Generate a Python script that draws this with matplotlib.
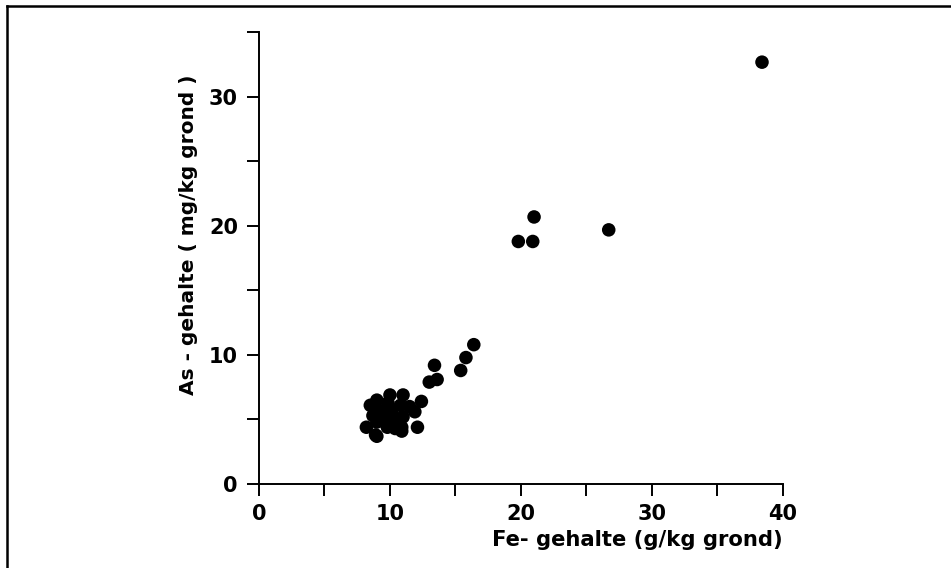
import matplotlib
matplotlib.use("Agg")
import matplotlib.pyplot as plt
from matplotlib.lines import Line2D

fe = [38.4, 19.8, 20.9, 21.0, 26.7,
      16.4, 15.8, 15.4, 13.4, 13.6, 13.0, 12.4,
      10.0, 11.0, 9.0, 8.5, 9.85, 11.5, 11.9, 9.5, 8.7, 10.4, 11.0, 9.0,
      8.2, 9.8, 10.9, 12.1, 8.9, 9.0, 10.9, 9.2, 10.15, 10.8, 9.6, 10.4]
as_ = [32.7, 18.8, 18.8, 20.7, 19.7,
       10.8, 9.8, 8.8, 9.2, 8.1, 7.9, 6.4,
       6.9, 6.9, 6.5, 6.1, 6.3, 6.0, 5.6, 5.6, 5.3, 5.1, 5.2, 4.8,
       4.4, 4.4, 4.4, 4.4, 3.8, 3.7, 4.1, 5.7, 5.6, 6.1, 5.0, 4.3]

x_major = [0, 10, 20, 30, 40]
x_minor = [5, 15, 25, 35]
y_major = [0, 10, 20, 30]
y_minor = [5, 15, 25, 35]

plt.rcParams['font.family'] = ['DejaVu Sans']

fig = plt.figure(figsize=(9.51, 5.68), dpi=100)
ax = fig.add_axes([0.2723, 0.1479, 0.8233 - 0.2723, 0.9428 - 0.1479])

ax.scatter(fe, as_, s=95, color='black', edgecolors='none', zorder=3, clip_on=False)

ax.set_xlim(0, 40)
ax.set_ylim(0, 35)
for s in ['top', 'right']:
    ax.spines[s].set_visible(False)
for s in ['left', 'bottom']:
    ax.spines[s].set_linewidth(1.4)
ax.set_xticks(x_major)
ax.set_xticks(x_minor, minor=True)
ax.set_yticks(y_major)
ax.set_yticks(y_minor, minor=True)
ax.tick_params(axis='both', which='both', direction='out', length=8.6, width=1.4,
               labelsize=15)
ax.tick_params(axis='x', which='both', pad=5.5)
ax.tick_params(axis='y', which='both', pad=6.5)
for lab in ax.get_xticklabels() + ax.get_yticklabels():
    lab.set_fontweight('bold')
ax.patch.set_alpha(0)

fig.text(0.8233, 1 - 530 / 568, 'Fe- gehalte (g/kg grond)', ha='right', va='top',
         fontsize=15.2, fontweight='bold')
fig.text(189 / 951, 1 - 235 / 568, 'As - gehalte ( mg/kg grond )', ha='center', va='center',
         rotation=90, fontsize=14.5, fontweight='bold')

# partial frame (left and top edges)
fig.add_artist(Line2D([0.0074, 0.0074], [0.0, 0.9894], transform=fig.transFigure,
                      color='black', lw=1.8))
fig.add_artist(Line2D([0.0074, 1.0], [0.9894, 0.9894], transform=fig.transFigure,
                      color='black', lw=1.8))

fig.savefig('out.png', dpi=100)
